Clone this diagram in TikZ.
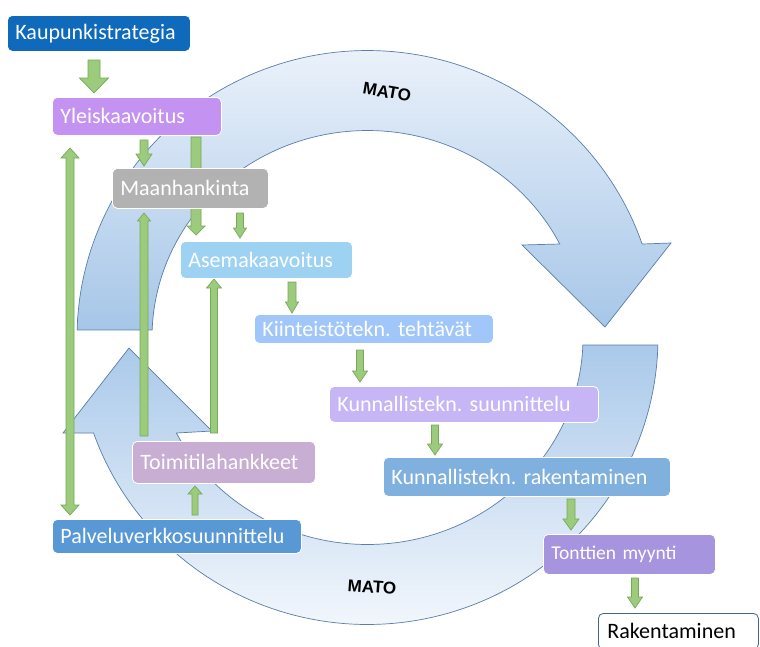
\documentclass[tikz,border=0pt]{standalone}
\usepackage{fontspec}
\setmainfont{Carlito}
\newfontfamily\matofont{Liberation Sans}
\usetikzlibrary{calc}
\definecolor{ringline}{RGB}{90,125,170}
\definecolor{ringtopA}{RGB}{234,241,250}
\definecolor{ringtopB}{RGB}{166,198,232}
\definecolor{ringbotA}{RGB}{170,201,234}
\definecolor{ringbotB}{RGB}{242,246,252}
\definecolor{garfill}{RGB}{156,203,126}
\definecolor{garline}{RGB}{118,170,86}
\definecolor{ckaup}{RGB}{16,106,188}
\definecolor{cyleis}{RGB}{196,146,240}
\definecolor{cmaan}{RGB}{178,178,178}
\definecolor{casema}{RGB}{158,210,242}
\definecolor{ckiint}{RGB}{160,198,250}
\definecolor{cksuun}{RGB}{198,182,245}
\definecolor{ckraken}{RGB}{128,176,222}
\definecolor{ctontt}{RGB}{166,148,222}
\definecolor{ctoimi}{RGB}{200,174,210}
\definecolor{cpalv}{RGB}{88,152,212}
\definecolor{crakenline}{RGB}{70,100,140}
% block arrow: #1 name, #2 start, #3 tip, #4 shaft half width, #5 head half width, #6 head length
\newcommand\garrow[6]{%
  \coordinate (#1h) at ($(#3)!#6!(#2)$);
  \path[gar] ($(#2)!#4!90:(#3)$) -- ($(#1h)!#4!90:(#3)$) -- ($(#1h)!#5!90:(#3)$)
    -- (#3) -- ($(#1h)!#5!-90:(#3)$) -- ($(#1h)!#4!-90:(#3)$) -- ($(#2)!#4!-90:(#3)$) -- cycle;}
% double block arrow: #1 name, #2 tip A, #3 tip B, #4 shaft hw, #5 head hw, #6 head length
\newcommand\gdarrow[6]{%
  \coordinate (#1a) at ($(#2)!#6!(#3)$);
  \coordinate (#1b) at ($(#3)!#6!(#2)$);
  \path[gar] (#2) -- ($(#1a)!#5!90:(#2)$) -- ($(#1a)!#4!90:(#2)$)
    -- ($(#1b)!#4!-90:(#3)$) -- ($(#1b)!#5!-90:(#3)$) -- (#3)
    -- ($(#1b)!#5!90:(#3)$) -- ($(#1b)!#4!90:(#3)$)
    -- ($(#1a)!#4!-90:(#2)$) -- ($(#1a)!#5!-90:(#2)$) -- cycle;}
\begin{document}
\begin{tikzpicture}[x=1pt,y=-1pt,
  box/.style={anchor=north west, rounded corners=5pt, draw=white, line width=0.8pt,
    text=white, font=\fontsize{22}{26}\selectfont\frenchspacing,
    inner xsep=8pt, inner ysep=0pt, align=left},
  gar/.style={fill=garfill, draw=garline, line width=0.7pt},
  ring/.style={draw=ringline, line width=0.7pt},
  mato/.style={font=\matofont\bfseries\fontsize{17}{20}\selectfont, text=black, inner sep=0pt}]
\useasboundingbox (0,0) rectangle (760,646);
\clip (0,0) rectangle (760,646);
\fill[white] (0,0) rectangle (760,646);

% cycle arrows
\path[ring, top color=ringtopA, bottom color=ringtopB]
  plot[domain=181.5:340.99, samples=100] ({367.5+290.5*cos(\x)},{337.5+287*sin(\x)})
  -- (671,243) -- (605,327) -- (522,245)
  -- plot[domain=333.15:182.08, samples=100] ({367.5+215.5*cos(\x)},{337.5+207*sin(\x)})
  -- cycle;
\path[ring, top color=ringbotA, bottom color=ringbotB]
  plot[domain=1.5:160.56, samples=100] ({367.5+290.5*cos(\x)},{337.5+287*sin(\x)})
  -- (63,433) -- (129,348) -- (212,431)
  -- plot[domain=152.52:2.08, samples=100] ({367.5+215.5*cos(\x)},{337.5+207*sin(\x)})
  -- cycle;

\node[mato, rotate=-10] (mato1) at (387,92) {MATO};
\node[mato, rotate=-4] (mato2) at (372,587) {MATO};

% green arrow end points
\coordinate (a1s) at (94,60);   \coordinate (a1e) at (94,93);
\coordinate (a2s) at (144,140); \coordinate (a2e) at (144,166);
\coordinate (a3s) at (196,137); \coordinate (a3e) at (196,235);
\coordinate (a4s) at (240,213); \coordinate (a4e) at (240,238);
\coordinate (a5s) at (292,282); \coordinate (a5e) at (292,313);
\coordinate (a6s) at (360,350); \coordinate (a6e) at (360,382);
\coordinate (a7s) at (435,425); \coordinate (a7e) at (435,455);
\coordinate (a8s) at (571,499); \coordinate (a8e) at (571,530);
\coordinate (a9s) at (635,578); \coordinate (a9e) at (635,608);
\coordinate (b1s) at (70,148);  \coordinate (b1e) at (70,515);
\coordinate (b2s) at (144,436); \coordinate (b2e) at (144,213);
\coordinate (b3s) at (214,433); \coordinate (b3e) at (214,279);
\coordinate (b4s) at (195,515); \coordinate (b4e) at (195,486);

\garrow{a1}{a1s}{a1e}{6pt}{14.5pt}{15pt}
\garrow{a2}{a2s}{a2e}{4pt}{8pt}{12pt}
\garrow{a3}{a3s}{a3e}{5pt}{9pt}{9pt}
\garrow{a4}{a4s}{a4e}{3.5pt}{6.5pt}{10pt}
\garrow{a5}{a5s}{a5e}{4pt}{6.5pt}{11pt}
\garrow{a6}{a6s}{a6e}{3.5pt}{7.5pt}{11pt}
\garrow{a7}{a7s}{a7e}{3.5pt}{7.5pt}{11pt}
\garrow{a8}{a8s}{a8e}{4pt}{8pt}{11pt}
\garrow{a9}{a9s}{a9e}{3.5pt}{7.5pt}{11pt}
\gdarrow{b1}{b1s}{b1e}{4pt}{9pt}{10pt}
\garrow{b2}{b2s}{b2e}{4pt}{6.5pt}{8pt}
\garrow{b3}{b3s}{b3e}{3.5pt}{7.5pt}{9pt}
\garrow{b4}{b4s}{b4e}{3pt}{7pt}{8pt}

% boxes
\node[box, fill=ckaup, text width=167pt, minimum height=36pt] (kaup) at (7,15) {Kaupunkistrategia};
\node[box, fill=cyleis, text width=153pt, minimum height=38pt] (yleis) at (52,97) {Yleiskaavoitus};
\node[box, fill=cmaan, text width=140pt, minimum height=40pt] (maan) at (112,168) {Maanhankinta};
\node[box, fill=casema, text width=156pt, minimum height=37pt] (asema) at (180,241) {Asemakaavoitus};
\node[box, fill=ckiint, text width=223pt, minimum height=29pt] (kiint) at (254,314) {Kiinteistötekn. tehtävät};
\node[box, fill=cksuun, text width=253pt, minimum height=36pt] (ksuun) at (329,386) {Kunnallistekn. suunnittelu};
\node[box, fill=ckraken, text width=271pt, minimum height=39pt] (kraken) at (383,457) {Kunnallistekn. rakentaminen};
\node[box, fill=ctontt, text width=156pt, minimum height=40pt, font=\fontsize{19.5}{23}\selectfont] (tontt) at (543,534) {Tonttien myynti};
\node[box, fill=ctoimi, text width=167pt, minimum height=42pt] (toimi) at (132,441) {Toimitilahankkeet};
\node[box, fill=cpalv, text width=233pt, minimum height=34pt] (palv) at (52,519) {Palveluverkkosuunnittelu};
\node[box, fill=white, draw=crakenline, text=black, text width=142pt, inner xsep=9pt, minimum height=36pt] (raken) at (598,613) {Rakentaminen};
\end{tikzpicture}
\end{document}
